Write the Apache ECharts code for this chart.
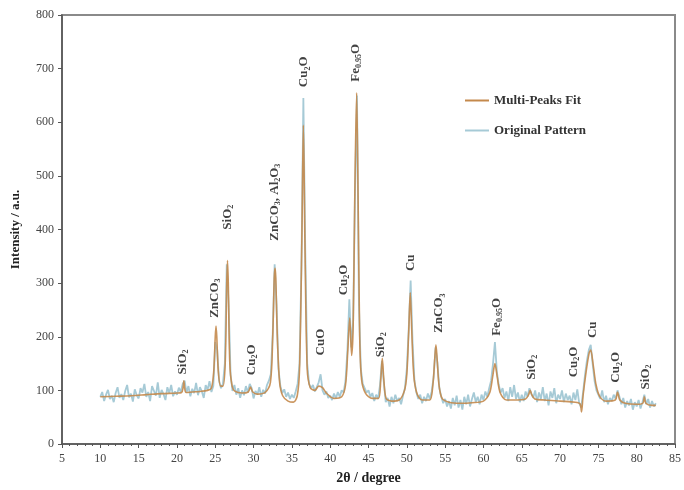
<!DOCTYPE html>
<html>
<head>
<meta charset="utf-8">
<script src="https://cdn.jsdelivr.net/npm/echarts@6/dist/echarts.min.js"></script>
<style>
  html, body { margin: 0; padding: 0; background: #fff; }
  #chart { width: 684px; height: 490px; }
</style>
</head>
<body>
<div id="chart"></div>
<script>
// multi-peak fit curve, 2θ (degree) and intensity (a.u.)
const fitTheta = [
  10, 12, 14, 16, 18, 20, 20.6, 20.8, 20.9, 21.0, 21.2, 22, 23, 24, 24.5, 24.8, 25.0, 25.1, 25.2, 25.4,
  25.7, 26.0, 26.3, 26.5, 26.6, 26.7, 26.9, 27.2, 27.6, 28.5, 29.3, 29.6, 29.9, 30.5, 31.5, 32.2, 32.5, 32.7, 32.8, 32.9,
  33.1, 33.4, 33.8, 34.5, 35.2, 35.7, 36.0, 36.3, 36.5, 36.7, 37.0, 37.4, 38.0, 38.5, 39.0, 39.5, 40.5, 41.5, 42.0, 42.3,
  42.55, 42.8, 43.0, 43.2, 43.45, 43.65, 43.85, 44.1, 44.6, 45.5, 46.3, 46.6, 46.8, 47.0, 47.3, 48, 49, 49.7, 50.0, 50.25,
  50.45, 50.65, 50.9, 51.3, 52, 53, 53.4, 53.65, 53.8, 53.95, 54.2, 54.6, 55.5, 57, 58.5, 60, 60.8, 61.2, 61.5, 61.8,
  62.2, 63, 64, 65.5, 65.9, 66.1, 66.3, 66.7, 68, 70, 72, 72.6, 72.8, 73.0, 73.4, 73.8, 74.0, 74.3, 74.7, 75.2,
  76, 77.2, 77.5, 77.8, 78.5, 80, 80.8, 81.0, 81.2, 82, 82.5
];
const fitIntensity = [
  88, 89, 90, 92, 94, 95, 96, 105, 118, 105, 96, 97, 98, 100, 104, 135, 200, 220, 200, 135,
  108, 108, 150, 300, 342, 300, 150, 108, 98, 95, 97, 106, 97, 93, 96, 115, 200, 310, 328, 310,
  200, 115, 90, 80, 78, 90, 140, 380, 595, 380, 140, 105, 100, 108, 105, 95, 85, 88, 110, 175,
  235, 165, 220, 450, 655, 450, 200, 120, 95, 85, 85, 120, 160, 120, 85, 80, 82, 100, 130, 210,
  282, 210, 130, 95, 82, 82, 110, 160, 185, 160, 110, 85, 78, 76, 77, 80, 95, 125, 150, 125,
  95, 82, 82, 84, 92, 100, 92, 84, 82, 80, 78, 75, 60, 90, 135, 170, 175, 150, 110, 88,
  80, 82, 97, 82, 76, 74, 76, 88, 76, 72, 72
];

// original pattern, one reading every 0.25° from 10° to 82.5°
const rawStart = 10;
const rawStep = 0.25;
const rawIntensity = [
  88, 97, 80, 92, 101, 84, 90, 78, 95, 106, 86, 93, 82, 99, 110, 87, 94, 79, 102, 91,
  85, 104, 96, 112, 88, 97, 80, 108, 99, 90, 115, 86, 101, 93, 82, 106, 95, 110, 89, 98,
  92, 105, 97, 112, 118, 96, 108, 89, 103, 95, 114, 91, 106, 98, 86, 110, 101, 117, 97, 108,
  190, 175, 118, 104, 112, 150, 335, 260, 130, 99, 110, 92, 104, 86, 100, 91, 108, 96, 112, 104,
  85, 99, 92, 106, 88, 101, 94, 110, 118, 130, 205, 335, 260, 140, 108, 95, 102, 88, 96, 84,
  92, 86, 98, 112, 150, 330, 645, 360, 150, 112, 104, 110, 98, 106, 115, 130, 100, 92, 98, 86,
  90, 82, 94, 85, 97, 88, 100, 96, 118, 175, 270, 180, 230, 480, 650, 260, 140, 112, 104, 96,
  100, 88, 95, 80, 92, 84, 110, 155, 115, 78, 86, 70, 88, 76, 92, 80, 86, 74, 90, 104,
  140, 215, 305, 190, 118, 96, 84, 92, 76, 88, 80, 94, 84, 98, 125, 180, 150, 104, 88, 76,
  84, 70, 80, 66, 86, 72, 90, 68, 82, 64, 88, 74, 92, 70, 84, 96, 78, 88, 74, 92,
  82, 98, 88, 104, 118, 150, 190, 135, 110, 96, 104, 86, 98, 80, 106, 88, 110, 84, 96, 78,
  92, 80, 98, 88, 104, 94, 86, 100, 78, 96, 84, 106, 80, 94, 72, 98, 86, 104, 76, 92,
  84, 100, 78, 94, 82, 90, 74, 96, 82, 102, 76, 68, 96, 128, 155, 175, 185, 150, 118, 100,
  92, 84, 100, 78, 90, 74, 86, 80, 92, 84, 100, 88, 74, 86, 68, 80, 72, 84, 64, 78,
  70, 82, 66, 78, 92, 74, 84, 68, 80, 70, 76
];

// phase labels: position of the label centre and the text
const peakTheta = [20.7, 24.95, 26.6, 29.7, 32.7, 36.6, 38.7, 41.7, 43.3, 46.6, 50.5, 54.2, 61.7, 66.3, 71.8, 74.3, 77.3, 81.2];
const peakLabelY = [153, 272, 423, 157, 451, 694, 190, 306, 711, 185, 338, 244, 237, 143, 153, 213, 143, 125];
const peakNames = [
  'SiO{s|2}', 'ZnCO{s|3}', 'SiO{s|2}', 'Cu{s|2}O', 'ZnCO{s|3}, Al{s|2}O{s|3}', 'Cu{s|2}O',
  'CuO', 'Cu{s|2}O', 'Fe{s|0.95}O', 'SiO{s|2}', 'Cu', 'ZnCO{s|3}',
  'Fe{s|0.95}O', 'SiO{s|2}', 'Cu{s|2}O', 'Cu', 'Cu{s|2}O', 'SiO{s|2}'
];

const xTicks = { min: 5, max: 85, interval: 5 };
const yTicks = { min: 0, max: 800, interval: 100 };

const serif = 'Liberation Serif';
const chart = echarts.init(document.getElementById('chart'));

const fitData = fitTheta.map((t, i) => [t, fitIntensity[i]]);
const rawData = rawIntensity.map((v, i) => [rawStart + i * rawStep, v]);
const labelData = peakTheta.map((t, i) => ({ value: [t, peakLabelY[i]], name: peakNames[i] }));

const option = {
  animation: false,
  grid: { left: 62, right: 5, top: 15, bottom: 46, show: true, borderColor: '#8a8a8a', borderWidth: 2 },
  legend: {
    data: ['Multi-Peaks Fit', 'Original Pattern'],
    orient: 'vertical',
    left: 460,
    top: 89,
    itemGap: 17,
    icon: 'rect',
    itemWidth: 24,
    itemHeight: 2,
    textStyle: { fontFamily: serif, fontWeight: 'bold', fontSize: 13, color: '#333' }
  },
  xAxis: {
    type: 'value',
    min: xTicks.min,
    max: xTicks.max,
    interval: xTicks.interval,
    name: '2θ / degree',
    nameLocation: 'middle',
    nameGap: 27,
    nameTextStyle: { fontFamily: serif, fontWeight: 'bold', fontSize: 14, color: '#222' },
    axisLine: { lineStyle: { color: '#555', width: 1.5 } },
    axisTick: { length: 4, lineStyle: { color: '#555' } },
    minorTick: { show: true, splitNumber: 5, length: 2, lineStyle: { color: '#555' } },
    axisLabel: { fontFamily: serif, fontSize: 12, color: '#444', margin: 9 },
    splitLine: { show: false }
  },
  yAxis: {
    type: 'value',
    min: yTicks.min,
    max: yTicks.max,
    interval: yTicks.interval,
    name: 'Intensity / a.u.',
    nameLocation: 'middle',
    nameGap: 40,
    nameTextStyle: { fontFamily: serif, fontWeight: 'bold', fontSize: 13, color: '#222' },
    axisLine: { show: true, lineStyle: { color: '#555', width: 1.5 } },
    axisTick: { show: true, length: 4, lineStyle: { color: '#555' } },
    axisLabel: { fontFamily: serif, fontSize: 12, color: '#444', margin: 8 },
    splitLine: { show: false }
  },
  series: [
    {
      name: 'Original Pattern',
      type: 'line',
      data: rawData,
      symbol: 'none',
      lineStyle: { color: '#a6cad6', width: 1.8 },
      itemStyle: { color: '#a6cad6' },
      z: 2
    },
    {
      name: 'Multi-Peaks Fit',
      type: 'line',
      data: fitData,
      symbol: 'none',
      smooth: 0.3,
      lineStyle: { color: '#c4894c', width: 1.6, opacity: 0.9 },
      itemStyle: { color: '#c4894c' },
      z: 3
    },
    {
      name: 'labels',
      type: 'scatter',
      data: labelData,
      symbolSize: 0,
      silent: true,
      z: 4,
      label: {
        show: true,
        position: 'inside',
        rotate: 90,
        formatter: p => '{a|' + p.name.replace(/\{s\|([^}]*)\}/g, '}{s|$1}{a|') + '}',
        rich: {
          a: { fontFamily: serif, fontWeight: 'bold', fontSize: 13, color: '#111', lineHeight: 15 },
          s: { fontFamily: serif, fontWeight: 'bold', fontSize: 8, color: '#111', lineHeight: 15, verticalAlign: 'bottom' }
        }
      }
    }
  ]
};

chart.setOption(option);
</script>
</body>
</html>
